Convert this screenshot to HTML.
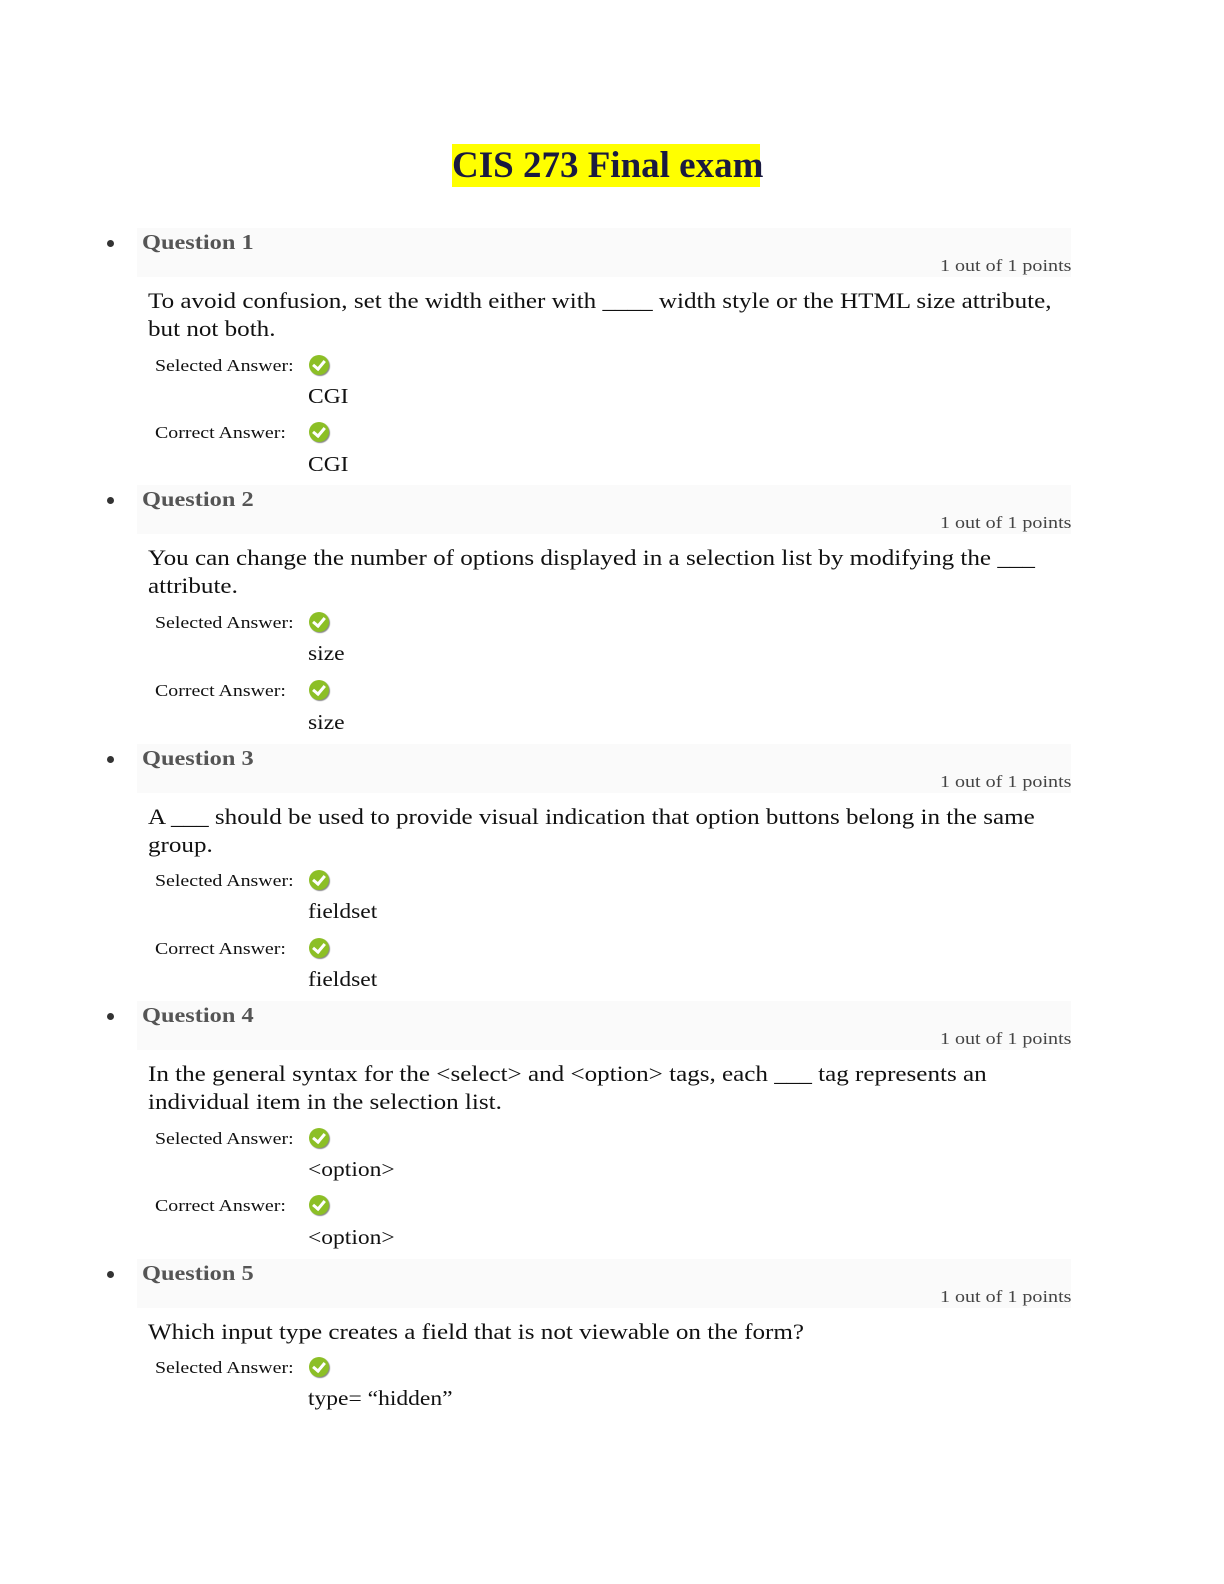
<!DOCTYPE html>
<html><head><meta charset="utf-8"><style>
body{margin:0;width:1224px;height:1584px;background:#fff;position:relative;font-family:"Liberation Serif",serif;color:#111}
.a{position:absolute;white-space:nowrap;transform-origin:left center}
.title{left:452px;top:144px;width:308px;height:43px;background:#ffff00;font-weight:bold;font-size:37px;line-height:43px;text-align:center;color:#1a1a40}
.band{position:absolute;left:137px;width:934px;height:49px;background:#fafafa}
.qh{font-weight:bold;font-size:21px;color:#555;transform:scaleX(1.16)}
.bul{position:absolute;left:107px;width:7px;height:7px;border-radius:50%;background:#333}
.pts{font-size:17px;color:#444;right:153px;transform-origin:right center;transform:scaleX(1.18)}
.qt{font-size:22px;color:#111;transform:scaleX(1.14)}
.lab{font-size:17px;color:#111;transform:scaleX(1.17)}
.ans{font-size:21px;color:#111;transform:scaleX(1.12)}
.chk{position:absolute;width:20px;height:20px;border-radius:50%;background:#8cbf26;box-shadow:1px 1px 1px #888}
.chk:after{content:"";position:absolute;left:6px;top:3px;width:5px;height:9px;border:solid #fff;border-width:0 3px 3px 0;transform:rotate(40deg)}
</style></head><body>
<div class="a title">CIS 273 Final exam</div>

<div class="band" style="top:228px"></div>
<div class="bul" style="top:240px"></div>
<div class="a qh" style="left:142px;top:230px">Question 1</div>
<div class="a pts" style="top:256px">1 out of 1 points</div>
<div class="a qt" style="left:148px;top:288px">To avoid confusion, set the width either with ____ width style or the HTML size attribute,</div>
<div class="a qt" style="left:148px;top:316px">but not both.</div>
<div class="a lab" style="left:155px;top:356px">Selected Answer:</div><div class="chk" style="left:309px;top:355px"></div>
<div class="a ans" style="left:308px;top:384px">CGI</div>
<div class="a lab" style="left:155px;top:423px">Correct Answer:</div><div class="chk" style="left:309px;top:422px"></div>
<div class="a ans" style="left:308px;top:452px">CGI</div>

<div class="band" style="top:485px"></div>
<div class="bul" style="top:497px"></div>
<div class="a qh" style="left:142px;top:487px">Question 2</div>
<div class="a pts" style="top:513px">1 out of 1 points</div>
<div class="a qt" style="left:148px;top:545px">You can change the number of options displayed in a selection list by modifying the ___</div>
<div class="a qt" style="left:148px;top:573px">attribute.</div>
<div class="a lab" style="left:155px;top:613px">Selected Answer:</div><div class="chk" style="left:309px;top:612px"></div>
<div class="a ans" style="left:308px;top:641px">size</div>
<div class="a lab" style="left:155px;top:681px">Correct Answer:</div><div class="chk" style="left:309px;top:680px"></div>
<div class="a ans" style="left:308px;top:710px">size</div>

<div class="band" style="top:744px"></div>
<div class="bul" style="top:756px"></div>
<div class="a qh" style="left:142px;top:746px">Question 3</div>
<div class="a pts" style="top:772px">1 out of 1 points</div>
<div class="a qt" style="left:148px;top:804px">A ___ should be used to provide visual indication that option buttons belong in the same</div>
<div class="a qt" style="left:148px;top:832px">group.</div>
<div class="a lab" style="left:155px;top:871px">Selected Answer:</div><div class="chk" style="left:309px;top:870px"></div>
<div class="a ans" style="left:308px;top:899px">fieldset</div>
<div class="a lab" style="left:155px;top:939px">Correct Answer:</div><div class="chk" style="left:309px;top:938px"></div>
<div class="a ans" style="left:308px;top:967px">fieldset</div>

<div class="band" style="top:1001px"></div>
<div class="bul" style="top:1013px"></div>
<div class="a qh" style="left:142px;top:1003px">Question 4</div>
<div class="a pts" style="top:1029px">1 out of 1 points</div>
<div class="a qt" style="left:148px;top:1061px">In the general syntax for the &lt;select&gt; and &lt;option&gt; tags, each ___ tag represents an</div>
<div class="a qt" style="left:148px;top:1089px">individual item in the selection list.</div>
<div class="a lab" style="left:155px;top:1129px">Selected Answer:</div><div class="chk" style="left:309px;top:1128px"></div>
<div class="a ans" style="left:308px;top:1157px">&lt;option&gt;</div>
<div class="a lab" style="left:155px;top:1196px">Correct Answer:</div><div class="chk" style="left:309px;top:1195px"></div>
<div class="a ans" style="left:308px;top:1225px">&lt;option&gt;</div>

<div class="band" style="top:1259px"></div>
<div class="bul" style="top:1271px"></div>
<div class="a qh" style="left:142px;top:1261px">Question 5</div>
<div class="a pts" style="top:1287px">1 out of 1 points</div>
<div class="a qt" style="left:148px;top:1319px">Which input type creates a field that is not viewable on the form?</div>
<div class="a lab" style="left:155px;top:1358px">Selected Answer:</div><div class="chk" style="left:309px;top:1357px"></div>
<div class="a ans" style="left:308px;top:1386px">type= “hidden”</div>
</body></html>
